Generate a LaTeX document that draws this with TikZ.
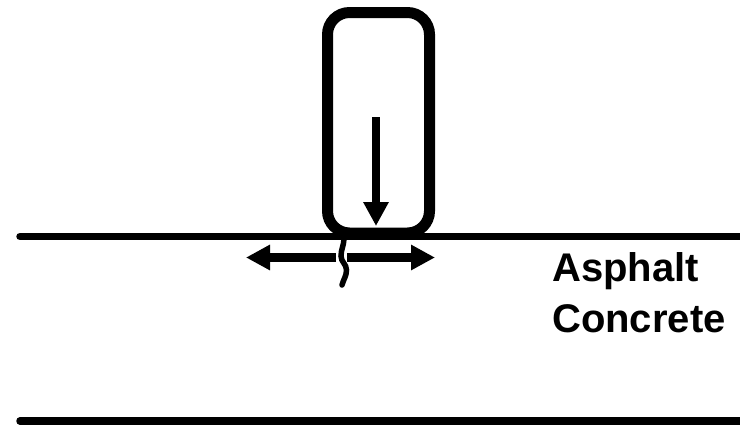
\documentclass[tikz,border=0pt]{standalone}
\usepackage{fontspec}
\setmainfont{Liberation Sans}
\usetikzlibrary{arrows.meta}
\tikzset{
  ground/.style={line width=7.5pt, line cap=round},
  tyre/.style={line width=11pt, rounded corners=22pt},
  bigarrow/.style={line width=8.5pt, -{Triangle[length=24pt,width=24pt]}},
  crack/.style={line width=5.5pt, line cap=round},
  label/.style={font=\bfseries\fontsize{40}{51}\selectfont, align=left, inner sep=0pt, anchor=north west}
}
\begin{document}
\begin{tikzpicture}[x=1pt,y=-1pt]
\useasboundingbox (0,0) rectangle (740,426);
% surface and base lines
\coordinate (g1) at (20,236.5);
\coordinate (g2) at (742,236.5);
\coordinate (b1) at (20,421);
\coordinate (b2) at (742,421);
\draw[ground] (g1) -- (g2);
\draw[ground] (b1) -- (b2);
% tyre
\draw[tyre] (327.5,12.5) rectangle (429.5,233);
% load arrow
\coordinate (la) at (376,117);
\coordinate (lb) at (376,226);
\draw[bigarrow] (la) -- (lb);
% horizontal strain arrows
\coordinate (hl0) at (336,257.5);
\coordinate (hl) at (246,257.5);
\coordinate (hr0) at (347,257.5);
\coordinate (hr) at (435,257.5);
\draw[bigarrow] (hl0) -- (hl);
\draw[bigarrow] (hr0) -- (hr);
% crack
\coordinate (c0) at (344,239);
\coordinate (c1) at (341,256);
\coordinate (c2) at (346.5,270);
\coordinate (c3) at (342,285);
\draw[crack] (c0) to[out=-92,in=90] (c1) to[out=-90,in=90] (c2) to[out=-90,in=75] (c3);
% label
\node[label] (lab) at (552,252) {Asphalt\\Concrete};
\end{tikzpicture}
\end{document}
